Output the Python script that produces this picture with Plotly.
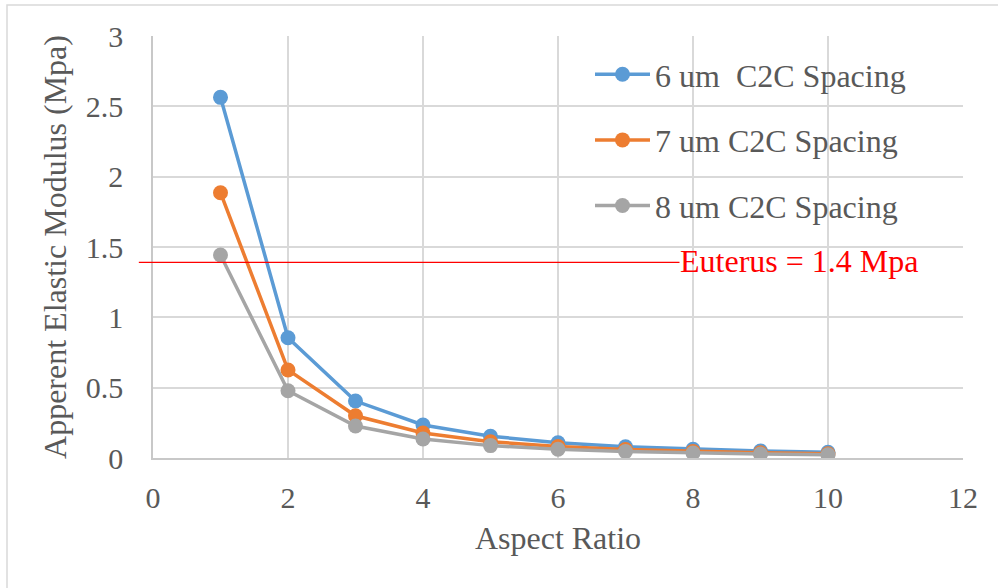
import plotly.graph_objects as go

aspect_ratio = [1, 2, 3, 4, 5, 6, 7, 8, 9, 10]
spacing_6um = [2.564, 0.855, 0.405, 0.235, 0.155, 0.108, 0.080, 0.062, 0.050, 0.041]
spacing_7um = [1.886, 0.626, 0.300, 0.178, 0.116, 0.082, 0.060, 0.047, 0.037, 0.030]
spacing_8um = [1.443, 0.478, 0.227, 0.135, 0.088, 0.062, 0.046, 0.036, 0.028, 0.023]
series_names = ["6 um  C2C Spacing", "7 um C2C Spacing", "8 um C2C Spacing"]
series_colors = ["#5B9BD5", "#ED7D31", "#A5A5A5"]
euterus_value = 1.39
euterus_label = "Euterus = 1.4 Mpa"
ref_line_x = [-0.21, 7.8]
x_range = [0, 12]

W, H = 998, 588
L, R, T, B = 153, 35, 36, 130
pw, ph = W - L - R, H - T - B
FONT = "Liberation Serif, Times New Roman, serif"
GRAY = "#595959"

fig = go.Figure()
for name, vals, col in zip(series_names, [spacing_6um, spacing_7um, spacing_8um], series_colors):
    fig.add_trace(go.Scatter(
        x=aspect_ratio, y=vals, name=name, mode="lines+markers",
        line=dict(color=col, width=3.5), marker=dict(color=col, size=15),
        legendgroup=name,
    ))

# reference line (extends left past the plot area, as in the original)
fig.add_shape(type="line", xref="paper", yref="y",
              x0=ref_line_x[0] / x_range[1], x1=ref_line_x[1] / x_range[1],
              y0=euterus_value, y1=euterus_value,
              line=dict(color="#FF0000", width=1.3))

fig.add_annotation(x=ref_line_x[1], y=euterus_value, xref="x", yref="y",
                   text=euterus_label, showarrow=False, xanchor="left", yanchor="middle",
                   xshift=-2, yshift=1, font=dict(family=FONT, size=32, color="#FF0000"))

# outer chart border
fig.add_shape(type="rect", xref="paper", yref="paper",
              x0=(7 - L) / pw, x1=(1010 - L) / pw,
              y0=(H - B - 600) / ph, y1=(H - B - 5) / ph,
              line=dict(color="#D9D9D9", width=1.5), layer="below")

fig.update_layout(
    width=W, height=H,
    margin=dict(l=L, r=R, t=T, b=B),
    paper_bgcolor="white", plot_bgcolor="white",
    font=dict(family=FONT, size=30, color=GRAY),
    legend=dict(x=(590 - L) / pw, y=(H - B - 47) / ph, xanchor="left", yanchor="top",
                bgcolor="rgba(0,0,0,0)", font=dict(family=FONT, size=32, color=GRAY),
                traceorder="grouped", tracegroupgap=21, itemwidth=55),
    showlegend=True,
)
fig.update_xaxes(range=x_range, dtick=2, tick0=0, showgrid=True, gridcolor="#D9D9D9", gridwidth=1.5,
                 showline=True, linecolor="#C8C8C8", linewidth=1.5, zeroline=False,
                 ticks="", tickfont=dict(size=30, color=GRAY), ticklabelstandoff=12,
                 title=dict(text="Aspect Ratio", font=dict(size=32, color=GRAY), standoff=14))
fig.update_yaxes(range=[0, 3], dtick=0.5, tick0=0, showgrid=True, gridcolor="#D9D9D9", gridwidth=1.5,
                 showline=True, linecolor="#C8C8C8", linewidth=1.5, zeroline=False,
                 ticks="", tickfont=dict(size=30, color=GRAY), ticklabelstandoff=22,
                 title=dict(text="Apperent Elastic Modulus (Mpa)", font=dict(size=32, color=GRAY), standoff=10))

fig.write_html("out.html")
